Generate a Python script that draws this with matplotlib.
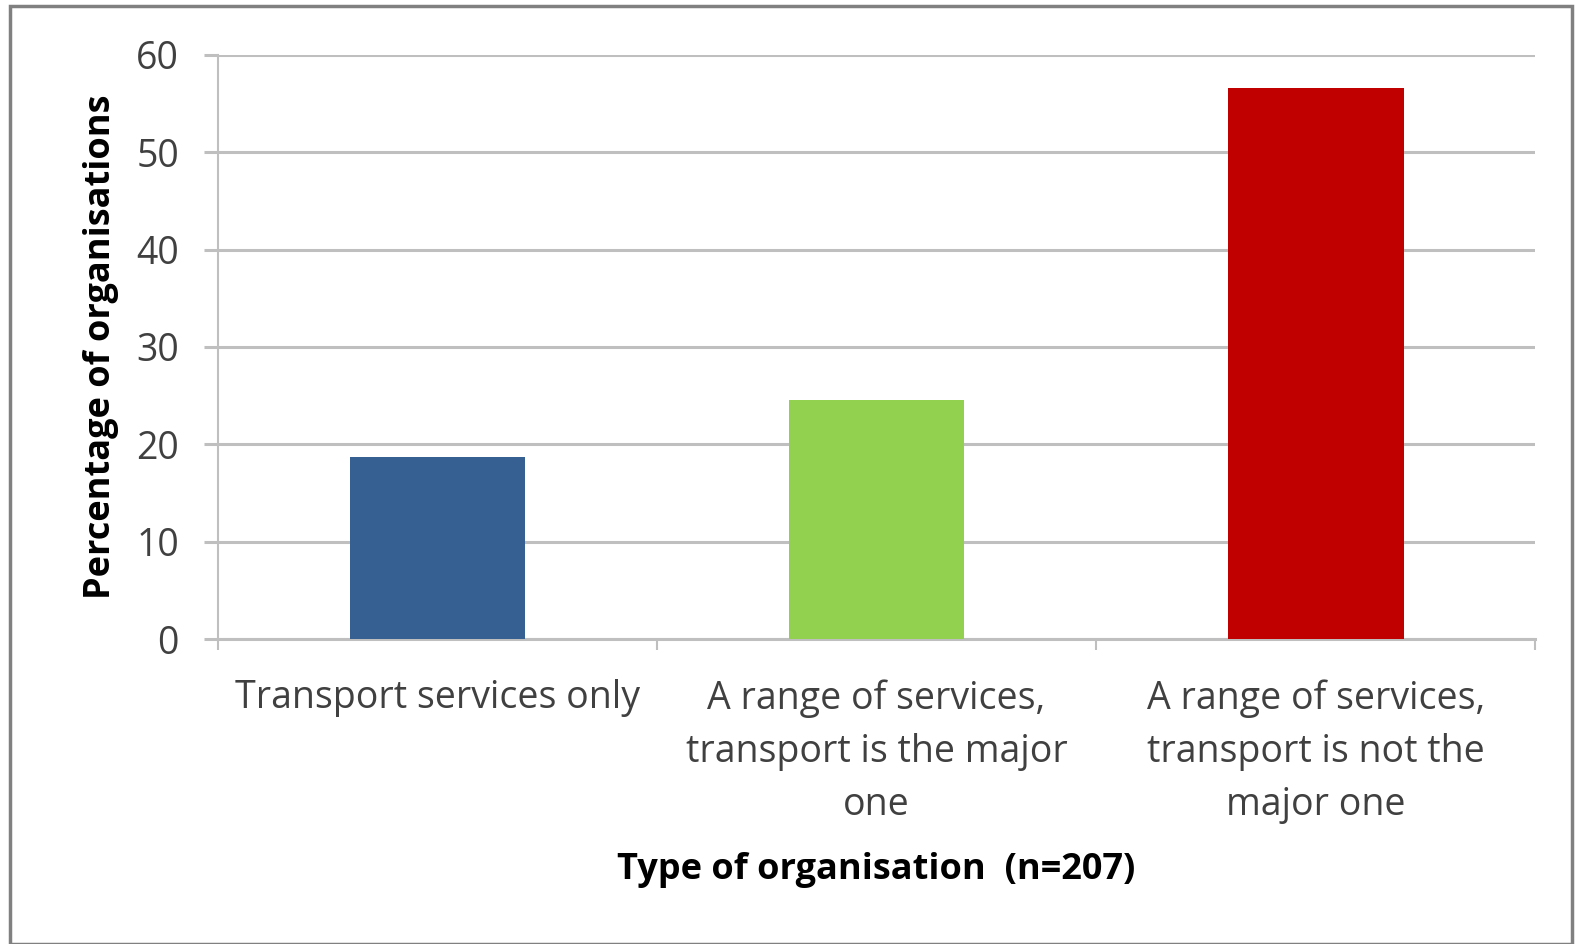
import numpy as np
import matplotlib.pyplot as plt
from matplotlib.patches import Rectangle

categories = ["Transport services only",
              "A range of services,\ntransport is the major\none",
              "A range of services,\ntransport is not the\nmajor one"]
percentages = [18.7, 24.5, 56.6]
bar_colors = ["#366092", "#92D050", "#C00000"]
y_ticks = [0, 10, 20, 30, 40, 50, 60]

plt.rcParams['font.family'] = ['Open Sans', 'DejaVu Sans']

fig = plt.figure(figsize=(15.78, 9.44), dpi=100)
ax = fig.add_axes([0.138, 0.323, 0.835, 0.619])

x = np.arange(len(categories))
ax.bar(x, percentages, width=0.4, color=bar_colors, zorder=3)

ax.set_xlim(-0.5, len(categories) - 0.5)
ax.set_ylim(0, 60)
ax.set_yticks(y_ticks)
ax.set_yticklabels([str(v) for v in y_ticks], fontsize=27, color="#404040")
ax.yaxis.grid(True, color="#BFBFBF", linewidth=2.2, zorder=0)
ax.tick_params(axis="y", length=10, width=2.2, color="#BFBFBF", pad=18)

ax.set_xticks(x)
ax.set_xticklabels(categories, fontsize=27, color="#404040", linespacing=1.52)
ax.set_xticks(np.arange(-0.5, len(categories)), minor=True)
ax.tick_params(axis="x", which="major", length=0, pad=29)
ax.tick_params(axis="x", which="minor", length=8, width=1.5, color="#BFBFBF")

for s in ["top", "right"]:
    ax.spines[s].set_visible(False)
ax.spines["left"].set_color("#BFBFBF")
ax.spines["left"].set_linewidth(1.5)
ax.spines["bottom"].set_color("#BFBFBF")
ax.spines["bottom"].set_linewidth(2.2)

ax.set_ylabel("Percentage of organisations", fontsize=26, fontweight="bold", labelpad=12)
fig.text(0.555, 0.078, "Type of organisation  (n=207)", fontsize=26,
         fontweight="bold", ha="center", va="center")

# grey frame round the whole chart
fig.patches.append(Rectangle((0.0065, 0.0), 0.99, 0.9935, transform=fig.transFigure,
                             fill=False, edgecolor="#808080", linewidth=2.5))

fig.savefig("out.png", dpi=100)
